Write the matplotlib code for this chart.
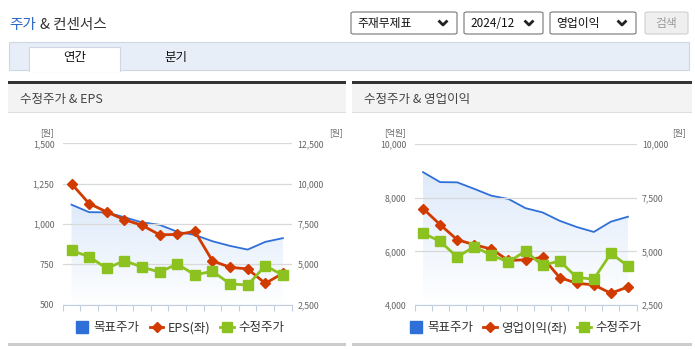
import numpy as np
import matplotlib
matplotlib.use("Agg")
import matplotlib.pyplot as plt
from matplotlib.patches import Rectangle, FancyBboxPatch
from matplotlib.lines import Line2D

plt.rcParams['font.family'] = ['Noto Sans CJK KR', 'DejaVu Sans']

# data
months = ['23/03', '23/04', '23/05', '23/06', '23/07', '23/08', '23/09',
          '23/10', '23/11', '23/12', '24/01', '24/02', '24/03']
target_price = [8700, 8235, 8225, 7920, 7600, 7450, 7020, 6820, 6430, 6140, 5910, 6390, 6620]
adj_price = [5855, 5470, 4740, 5220, 4830, 4510, 5015, 4345, 4560, 3785, 3705, 4910, 4320]
eps = [1250, 1127, 1075, 1027, 992, 933, 935, 954, 771, 731, 721, 631, 694]
op_profit = [7600, 7000, 6438, 6250, 6088, 5663, 5688, 5775, 5025, 4813, 4750, 4438, 4675]

W, H = 695, 349
fig = plt.figure(figsize=(W / 100, H / 100), dpi=100)
fig.patch.set_facecolor('white')

BLUE = '#2f6fd8'
RED = '#d13b00'
GREEN = '#8cc21f'
TXT = '#333333'
TICK = '#666666'


def rect(x, y, w, h, **kw):
    fig.add_artist(Rectangle((x / W, 1 - (y + h) / H), w / W, h / H,
                             transform=fig.transFigure, **kw))


def rbox(x, y, w, h, **kw):
    fig.add_artist(FancyBboxPatch((x / W, 1 - (y + h) / H), w / W, h / H,
                                  boxstyle='round,pad=0,rounding_size=0.004',
                                  transform=fig.transFigure, **kw))


def txt(x, y, s, **kw):
    fig.text(x / W, 1 - y / H, s, **kw)


def chevron(x, y):
    fig.add_artist(Line2D([(x - 3.5) / W, x / W, (x + 3.5) / W],
                          [1 - (y - 1.5) / H, 1 - (y + 2) / H, 1 - (y - 1.5) / H],
                          transform=fig.transFigure, color='#222222', lw=2))


# header
txt(9, 25, '주가', color='#2a66c9', fontsize=10.5, va='center')
txt(40, 25, '& 컨센서스', color=TXT, fontsize=10.5, va='center')

for x0, w, label in [(351, 106, '주재무제표'), (464, 79, '2024/12'), (550, 86, '영업이익')]:
    rbox(x0, 12, w, 22, facecolor='white', edgecolor='#767676', lw=0.8)
    txt(x0 + 6, 23.5, label, fontsize=8.5, color='#111111', va='center')
    chevron(x0 + w - 14, 23)
rbox(645, 12, 43, 22, facecolor='#efefef', edgecolor='#cfcfcf', lw=0.8)
txt(666.5, 23.5, '검색', fontsize=8.5, color='#9a9a9a', va='center', ha='center')

# tabs
rect(9, 42, 680, 28, facecolor='#e8eef8', edgecolor='#cfd7e5', lw=0.8)
rect(29, 47, 91, 24, facecolor='white', edgecolor='#cfd7e5', lw=0.8)
rect(29.5, 69, 90, 3, facecolor='white', edgecolor='none')
txt(74.5, 58, '연간', fontsize=9, color='#111111', ha='center', va='center')
txt(176, 58, '분기', fontsize=9, color='#111111', ha='center', va='center')

# panel frames
for px0, px1, title in [(8, 346, '수정주가 & EPS'), (352, 692, '수정주가 & 영업이익')]:
    rect(px0, 82, px1 - px0, 31, facecolor='#f3f3f3', edgecolor='none')
    rect(px0, 81, px1 - px0, 2.5, facecolor='#333333', edgecolor='none')
    rect(px0, 112, px1 - px0, 1.2, facecolor='#dddddd', edgecolor='none')
    rect(px0, 343, px1 - px0, 3, facecolor='#cccccc', edgecolor='none')
    txt(px0 + 12, 99, title, fontsize=9, color='#444444', va='center')


def make_chart(x0, x1, ytop, ybot, left_vals, left_lim, left_ticks, right_lim, right_ticks,
               left_unit, left_label, unit_lx, unit_rx, legend_x):
    ax_l = fig.add_axes([x0 / W, 1 - ybot / H, (x1 - x0) / W, (ybot - ytop) / H])
    ax_r = ax_l.twinx()
    ax_g = ax_l.twinx()
    ax_r.set_zorder(1)
    ax_l.set_zorder(2)
    ax_g.set_zorder(3)
    for a in (ax_l, ax_r, ax_g):
        a.patch.set_visible(False)
        for s in a.spines.values():
            s.set_visible(False)
        a.set_xlim(-0.5, len(months) - 0.5)
    ax_l.spines['bottom'].set_visible(True)
    ax_l.spines['bottom'].set_color('#c0d0e0')

    xs = np.arange(len(months))
    ax_l.set_ylim(*left_lim)
    ax_r.set_ylim(*right_lim)
    ax_g.set_ylim(*right_lim)
    ax_l.set_yticks(left_ticks)
    ax_l.set_yticklabels([f'{v:,}' for v in left_ticks])
    ax_r.set_yticks(right_ticks)
    ax_r.set_yticklabels([f'{v:,}' for v in right_ticks])
    ax_g.set_yticks([])
    ax_l.yaxis.grid(True, color='#d9d9d9', lw=0.9)
    ax_l.tick_params(axis='y', length=0, labelsize=6.3, labelcolor=TICK, pad=6)
    ax_r.tick_params(axis='y', length=0, labelsize=6.3, labelcolor=TICK, pad=4)

    ax_l.set_xticks(xs[::2])
    ax_l.set_xticklabels(months[::2])
    ax_l.set_xticks(np.arange(-0.5, len(months)), minor=True)
    ax_l.tick_params(axis='x', which='major', length=0, labelsize=6.3, labelcolor=TICK, pad=4)
    ax_l.tick_params(axis='x', which='minor', length=4, color='#c0d0e0', width=0.8)
    for a in (ax_r, ax_g):
        a.set_xticks([])

    # target price area with vertical gradient
    poly = ax_r.fill_between(xs, target_price, right_lim[0], color='none', lw=0)
    grad = np.linspace(0, 1, 256).reshape(-1, 1)
    cmap = matplotlib.colors.LinearSegmentedColormap.from_list('g', ['#ffffff', '#deeafa'])
    im = ax_r.imshow(grad, cmap=cmap, aspect='auto', origin='lower',
                     extent=[-0.5, len(months) - 0.5, right_lim[0], max(target_price)],
                     zorder=0.5)
    im.set_clip_path(poly.get_paths()[0], transform=ax_r.transData)
    ax_r.set_ylim(*right_lim)
    ax_r.set_xlim(-0.5, len(months) - 0.5)
    ax_r.plot(xs, target_price, color=BLUE, lw=1.3)

    ax_l.plot(xs, left_vals, color=RED, lw=2, marker='D', ms=4.8, mec=RED, mfc=RED)
    ax_g.plot(xs, adj_price, color=GREEN, lw=2, marker='s', ms=6.5, mec=GREEN, mfc=GREEN)

    txt(unit_lx, 133, left_unit, fontsize=6.3, color=TICK, ha='center', va='center')
    txt(unit_rx, 133, '[원]', fontsize=6.3, color=TICK, ha='center', va='center')

    handles = [Line2D([], [], color=BLUE, marker='s', ls='none', ms=9),
               Line2D([], [], color=RED, marker='D', lw=2, ms=4.8),
               Line2D([], [], color=GREEN, marker='s', lw=2, ms=6.5)]
    fig.legend(handles, ['목표주가', left_label, '수정주가'], loc='center',
               bbox_to_anchor=(legend_x / W, 1 - 328 / H), ncol=3, frameon=False,
               fontsize=9, handlelength=1.1, handletextpad=0.35, columnspacing=0.8,
               labelcolor='#333333')


make_chart(62.7, 291.7, 143.5, 304.5, eps, (500, 1500), [500, 750, 1000, 1250, 1500],
           (2500, 12500), [2500, 5000, 7500, 10000, 12500],
           '[원]', 'EPS(좌)', 47, 336, 180)
make_chart(414.5, 636.5, 144.3, 305, op_profit, (4000, 10000), [4000, 6000, 8000, 10000],
           (2500, 10000), [2500, 5000, 7500, 10000],
           '[억원]', '영업이익(좌)', 395, 679, 525)

fig.savefig('out.png', dpi=100)
